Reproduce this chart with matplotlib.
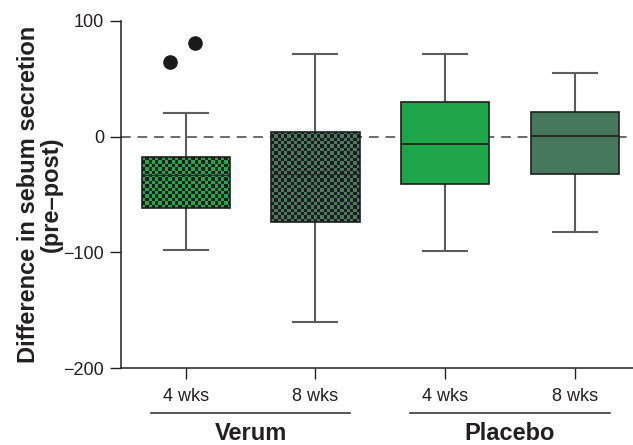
import matplotlib.pyplot as plt
from matplotlib.colors import to_rgb
import numpy as np

plt.rcParams['font.family'] = ['Liberation Sans', 'DejaVu Sans']

# data
labels = ['4 wks', '8 wks', '4 wks', '8 wks']
groups = ['Verum', 'Placebo']
whis_hi = [20, 71.5, 71.5, 54.5]
q3 = [-17.5, 4, 30, 21]
median = [-33, -32, -6, 0.3]
q1 = [-61.5, -74, -41, -32.5]
whis_lo = [-98, -160, -98.5, -82]
outliers = [[64, 80.5], [], [], []]
outlier_jitter = [[-0.12, 0.07], [], [], []]

colors = ['#22a84c', '#4b7a60', '#1fa64b', '#47785e']
checkered = [True, True, False, False]

fig = plt.figure(figsize=(6.33, 4.45), dpi=100)
ax = fig.add_axes([0.1912, 0.1724, 0.8088, 0.7811])

positions = np.arange(1, len(labels) + 1)
stats = []
for i in range(len(labels)):
    stats.append(dict(med=median[i], q1=q1[i], q3=q3[i],
                      whislo=whis_lo[i], whishi=whis_hi[i], fliers=[]))

bp = ax.bxp(stats, positions=positions, widths=0.68, capwidths=0.34,
            patch_artist=True, showfliers=False,
            boxprops=dict(edgecolor='#1e1e1e', linewidth=1.2),
            whiskerprops=dict(color='#5c5c5c', linewidth=1.5),
            capprops=dict(color='#5c5c5c', linewidth=1.5),
            medianprops=dict(color='#232323', linewidth=1.3))

ax.set_xlim(0.5, 4.45)
ax.set_ylim(-200, 100)

# zero reference line
ax.axhline(0, color='#6a6a6a', linestyle=(0, (5, 3.5)), linewidth=1.4, zorder=1)

for i, box in enumerate(bp['boxes']):
    box.set_zorder(3)
    if checkered[i]:
        box.set_facecolor('none')
        x0, x1 = positions[i] - 0.34, positions[i] + 0.34
        # checker texture sized in pixels
        p0 = ax.transData.transform((x0, q1[i]))
        p1 = ax.transData.transform((x1, q3[i]))
        nx = max(int(round((p1[0] - p0[0]) / 3.3)), 1)
        ny = max(int(round((p1[1] - p0[1]) / 3.3)), 1)
        yy, xx = np.indices((ny, nx))
        mask = (xx + yy) % 2 == 0
        img = np.zeros((ny, nx, 3))
        img[:] = to_rgb('#1c1c1c')
        img[mask] = to_rgb(colors[i])
        im = ax.imshow(img, extent=(x0, x1, q1[i], q3[i]), aspect='auto',
                       interpolation='nearest', zorder=2)
        im.set_clip_path(box)
        bp['medians'][i].set_linewidth(0.8)
        bp['medians'][i].set_color('#2a2a2a')
    else:
        box.set_facecolor(colors[i])
for m in bp['medians']:
    m.set_zorder(4)
for w in bp['whiskers'] + bp['caps']:
    w.set_zorder(2)

for i in range(len(labels)):
    if outliers[i]:
        xs = positions[i] + np.array(outlier_jitter[i])
        ax.plot(xs, outliers[i], 'o', color='#1a1a1a', markersize=9.5, zorder=5)

ax.set_xlim(0.5, 4.45)
ax.set_ylim(-200, 100)
ax.set_yticks([100, 0, -100, -200])
ax.set_yticklabels(['100', '0', '\u2212100', '\u2212200'])
ax.set_xticks(positions)
ax.set_xticklabels(labels)
ax.tick_params(axis='both', length=8, width=1, labelsize=13,
               colors='#231f20', direction='out')
ax.tick_params(axis='x', pad=6)
ax.tick_params(axis='y', pad=4)
for s in ['top', 'right']:
    ax.spines[s].set_visible(False)
for s in ['left', 'bottom']:
    ax.spines[s].set_linewidth(1.1)
    ax.spines[s].set_color('#231f20')

ax.set_ylabel('Difference in sebum secretion\n(pre\u2013post)', fontsize=17,
              fontweight='bold', color='#231f20', linespacing=1.0)
ax.yaxis.set_label_coords(-0.113, 0.5)

# group brackets under the tick labels
trans = ax.get_xaxis_transform()
for g, name in enumerate(groups):
    a, b = positions[2 * g], positions[2 * g + 1]
    ax.plot([a - 0.27, b + 0.27], [-0.128, -0.128], color='#3a3a3a',
            linewidth=1.2, transform=trans, clip_on=False)
    ax.text((a + b) / 2, -0.188, name, transform=trans, ha='center',
            va='center', fontsize=17, fontweight='bold', color='#231f20')

fig.savefig('out.png', dpi=100)
